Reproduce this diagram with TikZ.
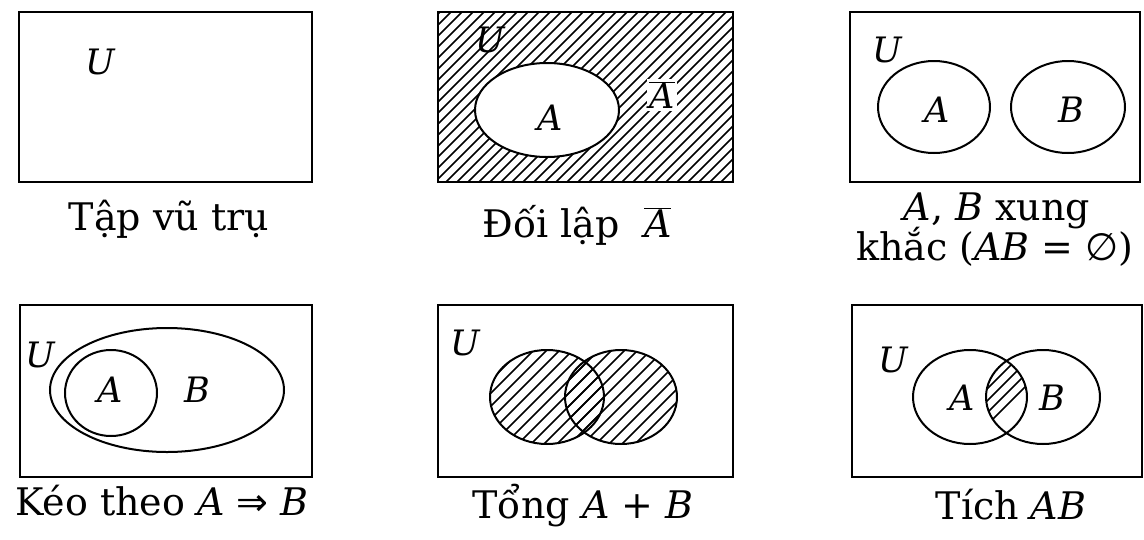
\documentclass[tikz,border=0pt]{standalone}
\usepackage{fontspec}
\setmainfont{DejaVu Serif}
\newfontfamily\symfont{DejaVu Sans}
\newcommand{\ovA}{$\overline{\hbox{\itshape A}}$}
\begin{document}
\begin{tikzpicture}[x=1pt,y=-1pt,
  frame/.style={line width=2.8pt},
  setline/.style={line width=2pt},
  hatch/.style={line width=1.5pt},
  captxt/.style={font=\fontsize{38}{44}\selectfont, inner sep=0pt, anchor=base},
  lab/.style={font=\fontsize{35}{40}\selectfont\itshape, inner sep=0pt}]
\useasboundingbox (0,0) rectangle (1144,539);

% ---------- Panel 1 : universe
\draw[frame] (19,12) rectangle (312,182);
\node[lab] (u1) at (100,62) {U};
\node[captxt] (c1) at (169,230) {Tập vũ trụ};

% ---------- Panel 2 : complement
\begin{scope}
  \clip (438,12) rectangle (733,182);
  \foreach \i in {0,11,...,500} {
    \draw[hatch] (\i+430,0) -- ++(-220,220);
  }
\end{scope}
\fill[white] (547,110) ellipse [x radius=72, y radius=47];
\draw[setline] (547,110) ellipse [x radius=72, y radius=47];
\draw[frame] (438,12) rectangle (733,182);
\node[lab] (u2) at (490,40) {U};
\node[lab] (a2) at (550,118) {A};
\node[lab, fill=white, inner sep=2pt, font=\fontsize{35}{40}\selectfont] (ab2) at (662,95) {\ovA};
\node[captxt] (c2) at (577,237) {Đối lập \ \ovA};

% ---------- Panel 3 : disjoint
\draw[frame] (850,12) rectangle (1140,182);
\draw[setline] (934,107) ellipse [x radius=56, y radius=46];
\draw[setline] (1068,107) ellipse [x radius=57, y radius=46];
\node[lab] (u3) at (887,50) {U};
\node[lab] (a3) at (937,110) {A};
\node[lab] (b3) at (1071,110) {B};
\node[captxt] (c3a) at (997,220) {\textit{A}, \textit{B} xung};
\node[captxt] (c3b) at (995,260) {khắc (\textit{AB} = {\symfont ∅})};

% ---------- Panel 4 : implication
\draw[frame] (20,305) rectangle (312,477);
\draw[setline] (167,390) ellipse [x radius=117, y radius=62];
\draw[setline] (111,393) ellipse [x radius=46, y radius=43];
\node[lab] (u4) at (40,355) {U};
\node[lab] (a4) at (110,390) {A};
\node[lab] (b4) at (197,390) {B};
\node[captxt] (c4) at (162,515) {Kéo theo \textit{A} {\symfont ⇒} \textit{B}};

% ---------- Panel 5 : union
\begin{scope}
  \clip (547,397) ellipse [x radius=57, y radius=47];
  \foreach \i in {0,13,...,260} {
    \draw[hatch] (\i+480,300) -- ++(-160,160);
  }
\end{scope}
\begin{scope}
  \clip (621,397) ellipse [x radius=56, y radius=47];
  \foreach \i in {0,13,...,300} {
    \draw[hatch] (\i+480,300) -- ++(-160,160);
  }
\end{scope}
\draw[setline] (547,397) ellipse [x radius=57, y radius=47];
\draw[setline] (621,397) ellipse [x radius=56, y radius=47];
\draw[frame] (438,305) rectangle (733,477);
\node[lab] (u5) at (465,343) {U};
\node[captxt] (c5) at (583,518) {Tổng \textit{A} + \textit{B}};

% ---------- Panel 6 : intersection
\begin{scope}
  \clip (970,397) ellipse [x radius=57, y radius=47];
  \clip (1043,397) ellipse [x radius=57, y radius=47];
  \foreach \i in {0,12,...,200} {
    \draw[hatch] (\i+920,300) -- ++(-160,160);
  }
\end{scope}
\draw[setline] (970,397) ellipse [x radius=57, y radius=47];
\draw[setline] (1043,397) ellipse [x radius=57, y radius=47];
\draw[frame] (852,305) rectangle (1142,477);
\node[lab] (u6) at (893,360) {U};
\node[lab] (a6) at (962,398) {A};
\node[lab] (b6) at (1052,398) {B};
\node[captxt] (c6) at (1011,519) {Tích \textit{AB}};
\end{tikzpicture}
\end{document}
